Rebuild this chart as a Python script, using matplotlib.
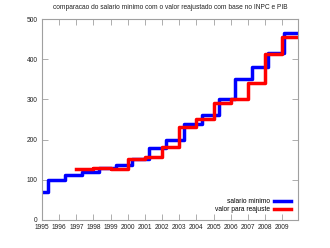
import matplotlib
matplotlib.use("Agg")
import matplotlib.pyplot as plt
from matplotlib.lines import Line2D

plt.rcParams["font.family"] = ["Liberation Sans", "DejaVu Sans"]

# salario minimo: inicio de cada vigencia (ano decimal) e valor
sm_inicio = [1995.0, 1995.33, 1996.33, 1997.33, 1998.33, 1999.33, 2000.25, 2001.25,
             2002.25, 2003.25, 2004.33, 2005.33, 2006.25, 2007.25, 2008.17, 2009.08]
sm_valor = [70, 100, 112, 120, 130, 136, 151, 180, 200, 240, 260, 300, 350, 380, 415, 465]

# valor para reajuste (INPC + PIB), muda em janeiro
vr_inicio = [1997, 1998, 1999, 2000, 2001, 2002, 2003, 2004, 2005, 2006, 2007, 2008, 2009]
vr_valor = [128, 129, 128, 152, 157, 181, 232, 251, 290, 301, 341, 413, 454]

fim = 2009.92
anos = list(range(1995, 2010))
fs = 4.8

fig = plt.figure(figsize=(3.3, 2.48), dpi=100)
ax = fig.add_axes([42 / 330, 1 - 220 / 248, 256 / 330, 201 / 248])

ax.step(sm_inicio + [fim], sm_valor + [sm_valor[-1]], where="post",
        color="#0000ff", lw=2.5, label="salario minimo")
ax.step(vr_inicio + [fim], vr_valor + [vr_valor[-1]], where="post",
        color="#ff0000", lw=2.5, label="valor para reajuste")

ax.set_xlim(1995, fim)
ax.set_ylim(0, 500)
ax.set_xticks(anos)
ax.set_xticklabels([str(a) for a in anos])
ax.set_yticks(range(0, 501, 100))
ax.tick_params(direction="in", top=True, right=True, length=4, width=0.6,
               labelsize=fs, colors="#a0a0a0", labelcolor="#222222", pad=3)
for s in ax.spines.values():
    s.set_color("#a0a0a0")
    s.set_linewidth(0.8)

ax.set_title("comparacao do salario minimo com o valor reajustado com base no INPC e PIB",
             fontsize=fs, color="#222222", pad=7)

handles = [Line2D([], [], color="#0000ff", lw=2.5), Line2D([], [], color="#ff0000", lw=2.5)]
ax.legend(handles, ["salario minimo", "valor para reajuste"], loc="lower right",
          frameon=False, fontsize=fs, markerfirst=False, handlelength=2.6,
          handletextpad=0.6, labelspacing=0.2, borderaxespad=0.6)

fig.savefig("out.png", dpi=100)
